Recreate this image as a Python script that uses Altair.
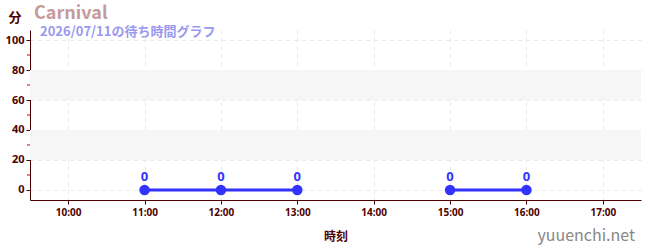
import altair as alt
import pandas as pd

hours = [11, 12, 13, 15, 16]
waits = [0, 0, 0, 0, 0]
segments = ["a", "a", "a", "b", "b"]
band_lo = [20, 60]
band_hi = [40, 80]
minor_ticks = [10, 30, 50, 70, 90]
x_ticks = [10, 11, 12, 13, 14, 15, 16, 17]
y_ticks = [0, 20, 40, 60, 80, 100]

FONT = "Noto Sans CJK JP"
NUMFONT = "Noto Sans"
AX = "#4d0000"
BLUE = "#3333ff"

df = pd.DataFrame({"h": hours, "w": waits, "seg": segments})
bands = pd.DataFrame({"lo": band_lo, "hi": band_hi})
minors = pd.DataFrame({"v": minor_ticks})

xs = alt.Scale(domain=[9.5, 17.5], nice=False, zero=False)
ys = alt.Scale(domain=[-6.67, 106.67], nice=False, zero=False)

xaxis = alt.Axis(values=x_ticks, labelExpr="datum.value + ':00'", title="時刻",
                 domainColor=AX, tickColor=AX, labelColor=AX, titleColor=AX,
                 labelFont=NUMFONT, titleFont=FONT, labelFontSize=10, labelFontWeight="bold",
                 titleFontSize=12, titleFontWeight="bold", titlePadding=14,
                 tickSize=4, labelPadding=3, labelOverlap=False,
                 grid=True, gridColor="#e8e8e8", gridDash=[4, 4])
yaxis = alt.Axis(values=y_ticks, title=None, orient="left",
                 domainColor=AX, tickColor=AX, labelColor=AX,
                 labelFont=NUMFONT, labelFontSize=11, labelFontWeight="bold",
                 tickSize=4, labelPadding=2, labelOverlap=False,
                 grid=True, gridColor="#e8e8e8", gridDash=[4, 4])

band = alt.Chart(bands).mark_rect(color="#f6f6f6").encode(
    y=alt.Y("lo:Q", scale=ys, axis=None), y2="hi:Q",
    x=alt.value(0), x2=alt.value(611))

minor = alt.Chart(minors).mark_rule(color="#dd0000", strokeWidth=1).encode(
    y=alt.Y("v:Q", scale=ys, axis=None), x=alt.value(-3), x2=alt.value(0))

base = alt.Chart(df).encode(x=alt.X("h:Q", scale=xs, axis=xaxis),
                            y=alt.Y("w:Q", scale=ys, axis=None))
line = base.mark_line(color=BLUE, strokeWidth=3).encode(
    y=alt.Y("w:Q", scale=ys, axis=yaxis), detail="seg:N")
pts = base.mark_circle(color=BLUE, size=110, opacity=1)
lbl = base.mark_text(color=BLUE, dy=-13, fontSize=13, fontWeight="bold", font=NUMFONT).encode(text="w:Q")

unit = alt.Chart(pd.DataFrame({"t": ["分"]})).mark_text(
    align="center", baseline="alphabetic", font=FONT, fontSize=13,
    fontWeight="bold", color=AX).encode(
    text="t:N", x=alt.value(-15), y=alt.value(-8))
title = alt.Chart(pd.DataFrame({"t": ["Carnival"]})).mark_text(
    align="left", baseline="alphabetic", font=FONT, fontSize=18,
    fontWeight="bold", color="#c49a9a").encode(
    text="t:N", x=alt.value(4), y=alt.value(-11))
sub = alt.Chart(pd.DataFrame({"t": ["2026/07/11の待ち時間グラフ"]})).mark_text(
    align="left", baseline="alphabetic", font=FONT, fontSize=13, fontWeight="bold",
    color="#9999ee").encode(text="t:N", x=alt.value(10), y=alt.value(6))
site = alt.Chart(pd.DataFrame({"t": ["yuuenchi.net"]})).mark_text(
    align="right", baseline="alphabetic", font=FONT, fontSize=16,
    color="#888888").encode(text="t:N", x=alt.value(605), y=alt.value(41 + 170))

chart = alt.layer(band, minor, line, pts, lbl, unit, title, sub, site).resolve_axis(
    y="independent"
).properties(
    width=611, height=170,
    autosize=alt.AutoSizeParams(type="none"),
    padding={"left": 30, "top": 30, "right": 9, "bottom": 50},
).configure(background="white").configure_view(stroke=None)

chart.save("out.html", embed_options={"renderer": "svg", "actions": False})
